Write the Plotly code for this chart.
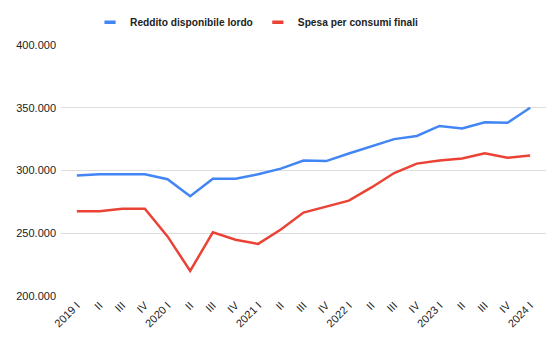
import plotly.graph_objects as go

quarters = ["2019 I", "II", "III", "IV", "2020 I", "II", "III", "IV",
            "2021 I", "II", "III", "IV", "2022 I", "II", "III", "IV",
            "2023 I", "II", "III", "IV", "2024 I"]
reddito = [296000, 297000, 297000, 297000, 293000, 279500, 293500, 293500,
           297000, 301500, 308000, 307500, 313500, 319000, 325000, 327500,
           335500, 333500, 338500, 338000, 350000]
spesa = [267500, 267500, 269500, 269500, 247500, 220000, 250800, 244800,
         241500, 253000, 266500, 271000, 276000, 286500, 298000, 305500,
         308000, 309500, 313800, 310200, 312000]
series_names = ["Reddito disponibile lordo", "Spesa per consumi finali"]
colors = ["#4285F4", "#EA4335"]

x = list(range(len(quarters)))

fig = go.Figure()
for name, vals, col in zip(series_names, [reddito, spesa], colors):
    fig.add_trace(go.Scatter(x=x, y=vals, mode="lines", name=name, showlegend=False,
                             line=dict(color=col, width=2.5)))
    # legend-only entry with a short bar symbol
    fig.add_trace(go.Scatter(x=[None], y=[None], mode="markers", name=name,
                             marker=dict(symbol="line-ew", size=8,
                                         line=dict(color=col, width=3.5))))

fig.update_layout(
    width=560, height=346,
    margin=dict(l=61, r=14, t=45, b=50, autoexpand=False),
    paper_bgcolor="white", plot_bgcolor="white",
    separators=",.",
    font=dict(family="Liberation Sans, Arial, sans-serif", size=11, color="#222222"),
    showlegend=True,
    legend=dict(orientation="h", x=0.459, xanchor="center", xref="container",
                y=0.936, yanchor="middle", yref="container",
                font=dict(size=10.2, color="#222222", family="Liberation Sans, Arial, sans-serif", weight="bold"),
                itemwidth=30, traceorder="normal", itemclick=False),
    xaxis=dict(tickmode="array", tickvals=x, ticktext=quarters, tickangle=-45,
               range=[-0.7, 20.7], showgrid=False, zeroline=False, showline=False,
               ticks="", tickfont=dict(size=11, color="#222222")),
    yaxis=dict(range=[200000, 400000], tickvals=[200000, 250000, 300000, 350000, 400000],
               tickformat=",d", showgrid=True, gridcolor="#dddddd", gridwidth=1,
               zeroline=False, showline=False, ticks="", ticklabelstandoff=4,
               tickfont=dict(size=11, color="#222222")),
)

fig.write_html("out.html")
